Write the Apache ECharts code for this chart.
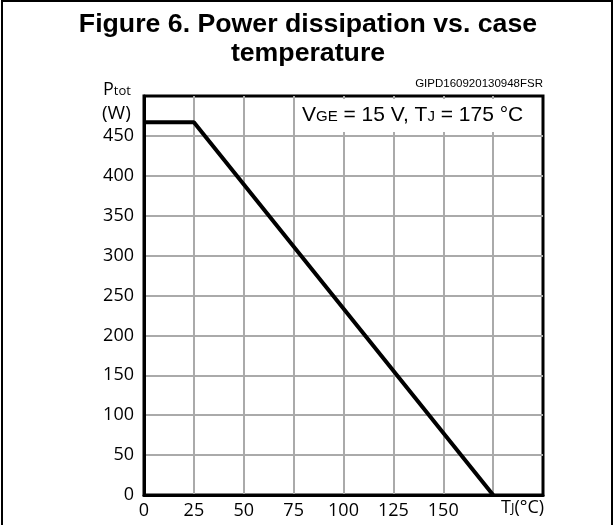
<!DOCTYPE html>
<html>
<head>
<meta charset="utf-8">
<script src="https://cdn.jsdelivr.net/npm/echarts@6/dist/echarts.min.js"></script>
<style>
  html, body { margin: 0; padding: 0; background: #fff; }
  #chart { width: 616px; height: 525px; }
</style>
</head>
<body>
<div id="chart"></div>
<script>
// derating curve
const tempC = [0, 25, 175];
const powerW = [467, 467, 0];
const xTickLabels = ['0', '25', '50', '75', '100', '125', '150'];
const yTickLabels = ['0', '50', '100', '150', '200', '250', '300', '350', '400', '450'];

const chart = echarts.init(document.getElementById('chart'));
const labelFont = '"Open Sans", sans-serif';
const arial = '"Liberation Sans", Arial, sans-serif';

const option = {
  backgroundColor: '#fff',
  animation: false,
  grid: {
    left: 144, right: 73, top: 96, bottom: 30,
    show: true, borderColor: '#000', borderWidth: 3
  },
  xAxis: {
    type: 'value', min: 0, max: 200, interval: 25,
    axisLine: { show: true, onZero: false, lineStyle: { color: '#000', width: 3 } },
    axisTick: { show: false },
    axisLabel: {
      color: '#000', fontSize: 18, fontFamily: labelFont, margin: 7,
      formatter: v => xTickLabels.includes(String(v)) ? String(v) : ''
    },
    splitLine: { show: true, showMinLine: false, showMaxLine: false, lineStyle: { color: '#aaa', width: 2 } }
  },
  yAxis: {
    type: 'value', min: 0, max: 500, interval: 50,
    axisLine: { show: true, onZero: false, lineStyle: { color: '#000', width: 3 } },
    axisTick: { show: false },
    axisLabel: {
      color: '#000', fontSize: 18, fontFamily: labelFont, margin: 10,
      formatter: v => yTickLabels.includes(String(v)) ? String(v) : ''
    },
    splitLine: { show: true, showMinLine: false, showMaxLine: false, lineStyle: { color: '#aaa', width: 2 } }
  },
  series: [{
    type: 'line',
    data: tempC.map((t, i) => [t, powerW[i]]),
    showSymbol: false,
    lineStyle: { color: '#000', width: 4 },
    z: 5
  }],
  graphic: [
    { type: 'rect', shape: { x: 2, y: 1, width: 610, height: 540 }, style: { fill: 'none', stroke: '#000', lineWidth: 2 }, z: 100 },
    { type: 'text', left: 'center', top: 11, style: { text: 'Figure 6. Power dissipation vs. case', font: 'bold 26.7px ' + arial, fill: '#000' } },
    { type: 'text', left: 'center', top: 40, style: { text: 'temperature', font: 'bold 26.7px ' + arial, fill: '#000' } },
    { type: 'text', right: 73, top: 78, style: { text: 'GIPD160920130948FSR', font: '11.5px ' + arial, fill: '#000' } },
    { type: 'text', x: 103, y: 81, style: { text: '{b|P}{s|tot}', rich: { b: { fontSize: 18, fontFamily: labelFont, fill: '#000' }, s: { fontSize: 13, fontFamily: labelFont, fill: '#000', padding: [3, 0, 0, 0] } } } },
    { type: 'text', x: 102, y: 104, style: { text: '(W)', font: '19px "Open Sans", sans-serif', fill: '#000' } },
    { type: 'text', x: 501, y: 499, style: { text: '{b|T}{s|J}{b|(°C)}', rich: { b: { fontSize: 18, fontFamily: labelFont, fill: '#000' }, s: { fontSize: 13, fontFamily: labelFont, fill: '#000' } } } },
    {
      type: 'text', x: 296, y: 99, z: 50,
      style: {
        text: '{b|V}{s|GE}{b| = 15 V, T}{s|J}{b| = 175 °C}',
        backgroundColor: '#fff', padding: [6, 14, 6, 6],
        rich: {
          b: { fontSize: 21, fontFamily: arial, fill: '#000' },
          s: { fontSize: 15, fontFamily: arial, fill: '#000', padding: [3, 0, 0, 0] }
        }
      }
    }
  ]
};

chart.setOption(option);
</script>
</body>
</html>
